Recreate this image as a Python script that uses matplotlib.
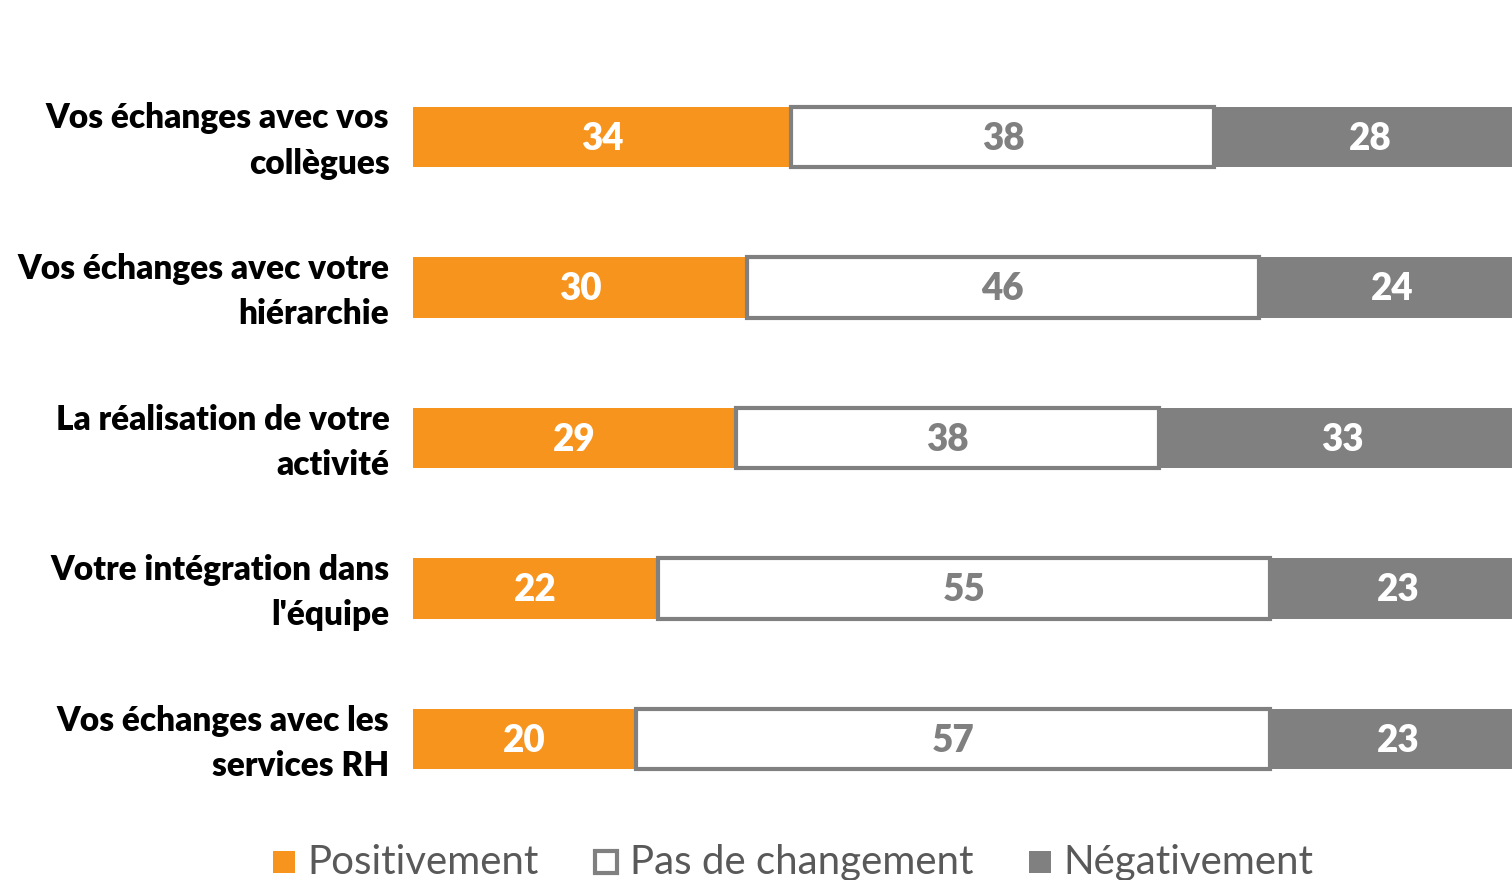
import matplotlib
matplotlib.use("Agg")
import matplotlib.pyplot as plt
from matplotlib.patches import Rectangle
from matplotlib.transforms import ScaledTranslation

plt.rcParams['font.family'] = ['Lato', 'DejaVu Sans']

categories = [
    "Vos échanges avec vos\ncollègues",
    "Vos échanges avec votre\nhiérarchie",
    "La réalisation de votre\nactivité",
    "Votre intégration dans\nl'équipe",
    "Vos échanges avec les\nservices RH",
]
positivement = [34, 30, 29, 22, 20]
pas_de_changement = [38, 46, 38, 55, 57]
negativement = [28, 24, 33, 23, 23]
series_names = ["Positivement", "Pas de changement", "Négativement"]

ORANGE = "#F7941D"
GREY = "#808080"
TEXT_GREY = "#595959"

W, H = 1512, 880
fig = plt.figure(figsize=(W / 100, H / 100), dpi=100)

# axes: 0-100 % spans 413 px .. 1526 px (right end runs off the canvas)
top_px, bot_px = 61.75, 814.25
ax = fig.add_axes([413 / W, 1 - bot_px / H, 1113 / W, (bot_px - top_px) / H])

y = list(range(len(categories)))
bar_h = 0.40

ax.barh(y, positivement, height=bar_h, color=ORANGE, edgecolor="none")
ax.barh(y, pas_de_changement, left=positivement, height=bar_h,
        color="white", edgecolor=GREY, linewidth=3.0, zorder=3)
left_neg = [p + m for p, m in zip(positivement, pas_de_changement)]
ax.barh(y, negativement, left=left_neg, height=bar_h, color=GREY,
        edgecolor="none")

lab_kw = dict(ha="center", va="center", fontsize=26.5, fontweight="heavy", zorder=5)
for i in y:
    ax.text(positivement[i] / 2, i + 0.01, str(positivement[i]), color="white", **lab_kw)
    ax.text(positivement[i] + pas_de_changement[i] / 2, i + 0.01,
            str(pas_de_changement[i]), color=GREY, **lab_kw)
    ax.text(left_neg[i] + negativement[i] / 2, i + 0.01, str(negativement[i]),
            color="white", **lab_kw)

ax.set_xlim(0, 100)
ax.set_ylim(len(categories) - 0.5, -0.5)
ax.set_yticks(y)
ax.set_yticklabels(categories, fontsize=24, fontweight="heavy", color="black",
                   linespacing=1.5, va="center")
ax.tick_params(axis="y", length=0, pad=17)
shift = ScaledTranslation(0, -4 / 100, fig.dpi_scale_trans)
for lbl in ax.get_yticklabels():
    lbl.set_transform(lbl.get_transform() + shift)
ax.set_xticks([])
for s in ax.spines.values():
    s.set_visible(False)

# legend row along the bottom edge
leg_y = 862
sq = 22
items = [(273, 307, ORANGE, "none"), (595, 630, "white", GREY),
         (1029, 1063, GREY, "none")]
for (sx, tx, fc, ec), name in zip(items, series_names):
    lw = 3.0 if ec != "none" else 0
    fig.patches.append(Rectangle((sx / W, 1 - (leg_y + sq / 2) / H), sq / W, sq / H,
                                 transform=fig.transFigure, facecolor=fc,
                                 edgecolor=ec, linewidth=lw))
    fig.text(tx / W, 1 - leg_y / H, name, ha="left", va="center",
             fontsize=29, color=TEXT_GREY)

fig.savefig("out.png", dpi=100, facecolor="white")
